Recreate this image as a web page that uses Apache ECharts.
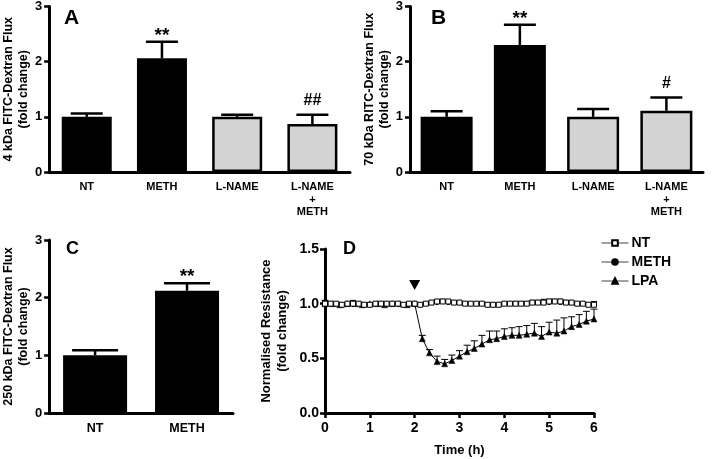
<!DOCTYPE html>
<html><head><meta charset="utf-8">
<script src="https://cdn.jsdelivr.net/npm/echarts@6/dist/echarts.min.js"></script>
<style>html,body{margin:0;padding:0;background:#fff}#c{width:715px;height:459px}</style>
</head><body><div id="c"></div>
<script>
// ---- data ----
const catsAB = ['NT', 'METH', 'L-NAME', 'L-NAME\n+\nMETH'];
const aMean = [1.00, 2.06, 1.00, 0.87];
const aErr  = [1.06, 2.36, 1.04, 1.04];
const aSig  = ['', '**', '', '##'];
const bMean = [1.00, 2.30, 1.00, 1.11];
const bErr  = [1.10, 2.67, 1.14, 1.35];
const bSig  = ['', '**', '', '#'];
const catsC = ['NT', 'METH'];
const cMean = [1.00, 2.12];
const cErr  = [1.09, 2.25];
const cSig  = ['', '**'];
const barTicks = [0, 1, 2, 3];

const ntTime = [0,0.125,0.25,0.375,0.5,0.625,0.75,0.875,1,1.125,1.25,1.375,1.5,1.625,1.75,1.875,2,2.125,2.25,2.375,2.5,2.625,2.75,2.875,3,3.125,3.25,3.375,3.5,3.625,3.75,3.875,4,4.125,4.25,4.375,4.5,4.625,4.75,4.875,5,5.125,5.25,5.375,5.5,5.625,5.75,5.875,6];
const ntVal = [1.00,1.00,1.00,0.99,1.00,1.00,1.00,0.99,
               0.99,1.00,1.00,1.00,1.00,1.00,0.99,1.00,
               1.00,0.99,1.00,1.01,1.02,1.02,1.02,1.01,
               1.01,1.00,1.00,1.00,1.00,0.99,0.99,0.99,
               1.00,1.00,1.00,1.00,1.00,1.01,1.01,1.01,
               1.02,1.02,1.02,1.01,1.01,1.00,1.00,0.99,
               0.99];
const ntErr = [1.03,1.01,1.01,1.00,1.01,1.03,1.01,1.00,
               1.00,1.01,1.02,1.01,1.01,1.01,1.00,1.01,
               1.01,1.00,1.01,1.02,1.03,1.04,1.03,1.02,
               1.02,1.01,1.01,1.01,1.01,1.00,1.00,1.00,
               1.01,1.01,1.02,1.02,1.02,1.03,1.03,1.04,
               1.04,1.04,1.04,1.03,1.02,1.01,1.01,1.00,
               1.02];
const methVal = [1.00,1.00,1.00,0.99,1.00,1.00,1.00,0.99,
                 0.99,1.00,1.00,1.00,1.00,1.00,0.99,1.00,
                 1.00,0.99,1.00,1.01,1.01,1.02,1.01,1.01,
                 1.01,1.00,1.00,1.00,1.00,0.99,0.99,0.99,
                 1.00,1.00,1.00,1.00,1.00,1.01,1.01,1.01,
                 1.01,1.02,1.01,1.01,1.01,1.00,1.00,0.99,
                 0.99];
const lpaTime = [0,0.17,0.33,0.5,0.67,0.83,1,1.17,1.33,1.5,1.67,1.83,2,2.17,2.33,2.5,2.67,2.83,3,3.17,3.33,3.5,3.67,3.83,4,4.17,4.33,4.5,4.67,4.83,5,5.17,5.33,5.5,5.67,5.83,6];
const lpaVal = [1.00,1.00,0.99,1.00,1.00,0.99,1.00,1.00,0.99,1.00,1.00,0.99,1.00,
                0.68,0.55,0.47,0.45,0.48,0.52,0.56,0.59,0.63,0.67,0.68,
                0.70,0.71,0.71,0.72,0.73,0.70,0.74,0.73,0.75,0.79,0.81,0.84,0.86];
const lpaErr = [1.03,1.01,1.00,1.01,1.01,1.00,1.01,1.01,1.00,1.01,1.01,1.00,1.01,
                0.71,0.58,0.52,0.49,0.53,0.57,0.62,0.66,0.71,0.75,0.75,
                0.77,0.78,0.79,0.80,0.82,0.79,0.83,0.85,0.87,0.88,0.90,0.93,0.95];
const arrowAt = [2, 1.17];

// ---- styles ----
const FONT = '"Liberation Sans", Arial, sans-serif';
const BLACK = '#000';
const GREY = '#d3d3d3';
const barFill = [BLACK, BLACK, GREY, GREY];

function barData(means) {
  return means.map((v, i) => ({
    value: v,
    itemStyle: barFill[i] === BLACK
      ? { color: BLACK, borderWidth: 0 }
      : { color: GREY, borderColor: BLACK, borderWidth: 2.5 }
  }));
}

function errSeries(gridIdx, means, errs, sig, capHalf, lw) {
  return {
    type: 'custom', xAxisIndex: gridIdx, yAxisIndex: gridIdx, z: 5,
    data: means.map((m, i) => [i, m, errs[i]]),
    encode: { x: 0, y: [1, 2] },
    renderItem: function (params, api) {
      const i = api.value(0);
      const b = api.coord([i, api.value(1)]);
      const t = api.coord([i, api.value(2)]);
      const st = { stroke: BLACK, lineWidth: lw };
      const ch = [
        { type: 'line', shape: { x1: b[0], y1: b[1], x2: t[0], y2: t[1] }, style: st },
        { type: 'line', shape: { x1: t[0] - capHalf, y1: t[1], x2: t[0] + capHalf, y2: t[1] }, style: st }
      ];
      const s = sig[params.dataIndex];
      if (s) {
        const isStar = s.indexOf('*') >= 0;
        ch.push({ type: 'text', style: {
          text: s, x: t[0], y: t[1] - (isStar ? 6 : 14),
          align: 'center', verticalAlign: 'middle',
          font: 'bold ' + (isStar ? 19 : 16) + 'px ' + FONT, fill: BLACK } });
      }
      return { type: 'group', children: ch };
    }
  };
}

function lineErrSeries(gridIdx, xs, means, errs, capHalf) {
  return {
    type: 'custom', xAxisIndex: gridIdx, yAxisIndex: gridIdx, z: 1,
    data: xs.map((x, i) => [x, means[i], errs[i]]),
    encode: { x: 0, y: [1, 2] },
    renderItem: function (params, api) {
      const b = api.coord([api.value(0), api.value(1)]);
      const t = api.coord([api.value(0), api.value(2)]);
      const st = { stroke: BLACK, lineWidth: 1 };
      return { type: 'group', children: [
        { type: 'line', shape: { x1: b[0], y1: b[1], x2: t[0], y2: t[1] }, style: st },
        { type: 'line', shape: { x1: t[0] - capHalf, y1: t[1], x2: t[0] + capHalf, y2: t[1] }, style: st }
      ] };
    }
  };
}

function catAxis(gridIdx, cats, fs) {
  return {
    type: 'category', gridIndex: gridIdx, data: cats, boundaryGap: true,
    axisLine: { lineStyle: { color: BLACK, width: 3 } },
    axisTick: { show: false },
    axisLabel: { color: BLACK, fontWeight: 'bold', fontFamily: FONT, fontSize: fs, margin: 9, lineHeight: 12.5, interval: 0 }
  };
}
function barYAxis(gridIdx, name, gap) {
  return {
    type: 'value', gridIndex: gridIdx, min: barTicks[0], max: barTicks[barTicks.length - 1], interval: 1,
    name: name, nameLocation: 'middle', nameRotate: 90, nameGap: gap,
    nameTextStyle: { color: BLACK, fontWeight: 'bold', fontFamily: FONT, fontSize: 12.5, lineHeight: 15 },
    axisLine: { show: true, lineStyle: { color: BLACK, width: 3 } },
    axisTick: { show: true, length: 5, lineStyle: { color: BLACK, width: 2.5 } },
    axisLabel: { color: BLACK, fontWeight: 'bold', fontFamily: FONT, fontSize: 13, margin: 7 },
    splitLine: { show: false }
  };
}

const chart = echarts.init(document.getElementById('c'), null, { renderer: 'canvas' });
const option = {
  animation: false,
  backgroundColor: '#fff',
  textStyle: { fontFamily: FONT },
  grid: [
    { left: 47, right: 365, top: 5, bottom: 287 },
    { left: 410, right: 12, top: 5, bottom: 287 },
    { left: 48, right: 482, top: 240, bottom: 46 },
    { left: 325, right: 121, top: 249, bottom: 46 }
  ],
  xAxis: [
    catAxis(0, catsAB, 11),
    catAxis(1, catsAB, 11),
    catAxis(2, catsC, 12.5),
    {
      type: 'value', gridIndex: 3, min: 0, max: 6, interval: 1,
      name: 'Time (h)', nameLocation: 'middle', nameGap: 31,
      nameTextStyle: { color: BLACK, fontWeight: 'bold', fontFamily: FONT, fontSize: 13 },
      axisLine: { onZero: false, lineStyle: { color: BLACK, width: 3 } },
      axisTick: { show: true, length: 5, lineStyle: { color: BLACK, width: 2.5 } },
      axisLabel: { color: BLACK, fontWeight: 'bold', fontFamily: FONT, fontSize: 14, margin: 8 },
      splitLine: { show: false }
    }
  ],
  yAxis: [
    barYAxis(0, '4 kDa FITC-Dextran Flux\n(fold change)', 13),
    barYAxis(1, '70 kDa RITC-Dextran Flux\n(fold change)', 13),
    barYAxis(2, '250 kDa FITC-Dextran Flux\n(fold change)', 12),
    {
      type: 'value', gridIndex: 3, min: 0, max: 1.5, interval: 0.5,
      name: 'Normalised Resistance\n(fold change)', nameLocation: 'middle', nameRotate: 90, nameGap: 35,
      nameTextStyle: { color: BLACK, fontWeight: 'bold', fontFamily: FONT, fontSize: 13, lineHeight: 16 },
      axisLine: { show: true, lineStyle: { color: BLACK, width: 3 } },
      axisTick: { show: true, length: 5, lineStyle: { color: BLACK, width: 2.5 } },
      axisLabel: { color: BLACK, fontWeight: 'bold', fontFamily: FONT, fontSize: 14, margin: 6,
        formatter: v => v.toFixed(1) },
      splitLine: { show: false }
    }
  ],
  legend: {
    orient: 'vertical', left: 596, top: 231, itemWidth: 27, itemHeight: 7, itemGap: 5,
    data: ['NT', 'METH', 'LPA'],
    lineStyle: { width: 1, color: '#444' },
    textStyle: { color: BLACK, fontWeight: 'bold', fontFamily: FONT, fontSize: 14, padding: [0, 0, 0, -2] }
  },
  graphic: [
    { type: 'text', left: 64, top: 8, style: { text: 'A', font: 'bold 21px ' + FONT, fill: BLACK } },
    { type: 'text', left: 431, top: 8, style: { text: 'B', font: 'bold 21px ' + FONT, fill: BLACK } },
    { type: 'text', left: 66, top: 240, style: { text: 'C', font: 'bold 18px ' + FONT, fill: BLACK } },
    { type: 'text', left: 343, top: 240, style: { text: 'D', font: 'bold 18px ' + FONT, fill: BLACK } }
  ],
  series: [
    { type: 'bar', xAxisIndex: 0, yAxisIndex: 0, barWidth: 50, data: barData(aMean), z: 2 },
    errSeries(0, aMean, aErr, aSig, 16, 2.5),
    { type: 'bar', xAxisIndex: 1, yAxisIndex: 1, barWidth: 52, data: barData(bMean), z: 2 },
    errSeries(1, bMean, bErr, bSig, 16, 2.5),
    { type: 'bar', xAxisIndex: 2, yAxisIndex: 2, barWidth: 64, data: barData(cMean), z: 2 },
    errSeries(2, cMean, cErr, cSig, 23, 2.5),
    lineErrSeries(3, lpaTime, lpaVal, lpaErr, 3.5),
    lineErrSeries(3, ntTime, ntVal, ntErr, 3),
    {
      name: 'METH', type: 'line', xAxisIndex: 3, yAxisIndex: 3, z: 2,
      data: ntTime.map((t, i) => [t, methVal[i]]),
      symbol: 'circle', symbolSize: 4, showAllSymbol: true,
      lineStyle: { color: BLACK, width: 1 }, itemStyle: { color: BLACK, borderColor: BLACK, borderWidth: 1 }
    },
    {
      name: 'LPA', type: 'line', xAxisIndex: 3, yAxisIndex: 3, z: 3,
      data: lpaTime.map((t, i) => [t, lpaVal[i]]),
      symbol: 'triangle', symbolSize: 6, showAllSymbol: true,
      lineStyle: { color: BLACK, width: 1 }, itemStyle: { color: BLACK, borderColor: BLACK, borderWidth: 0.5 },
      markPoint: {
        symbol: 'triangle', symbolRotate: 180, symbolSize: [11, 10],
        itemStyle: { color: BLACK }, label: { show: false },
        data: [{ coord: arrowAt }]
      }
    },
    {
      name: 'NT', type: 'line', xAxisIndex: 3, yAxisIndex: 3, z: 4,
      data: ntTime.map((t, i) => [t, ntVal[i]]),
      symbol: 'rect', symbolSize: 5, showAllSymbol: true,
      lineStyle: { color: BLACK, width: 1 }, itemStyle: { color: '#fff', borderColor: BLACK, borderWidth: 1 }
    }
  ]
};
chart.setOption(option);
</script></body></html>
